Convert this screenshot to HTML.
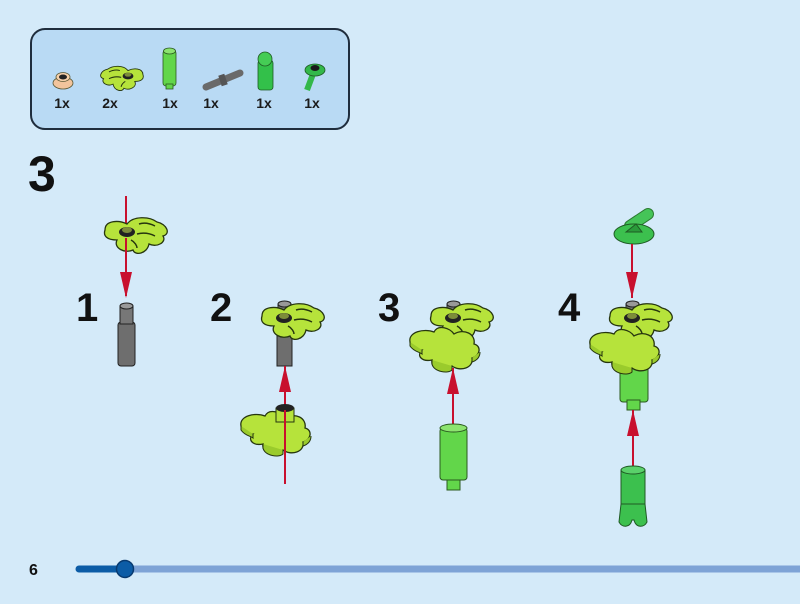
<!DOCTYPE html>
<html><head><meta charset="utf-8"><style>
html,body{margin:0;padding:0;background:#d4eaf9;}
svg{display:block;font-family:"Liberation Sans",sans-serif;}
</style></head><body>
<svg width="800" height="604" viewBox="0 0 800 604" xmlns="http://www.w3.org/2000/svg">
<defs>
<g id="leaf">
<path d="M-22,-2 C-22,-12 -8,-12 0,-8 C6,-16 22,-16 30,-10 C40,-8 44,2 36,4 C40,10 30,16 22,12 C20,22 8,24 6,18 C-2,22 -14,16 -10,8 C-20,8 -24,4 -22,-2 Z" fill="#b6e33b" stroke="#26360f" stroke-width="1.3"/>
<path d="M12,-8 C18,-10 24,-8 28,-6 M10,2 C18,0 24,2 28,4 M4,8 C8,10 10,14 10,16" fill="none" stroke="#26360f" stroke-width="1.5"/>
<ellipse cx="0" cy="0" rx="8" ry="5" fill="#222"/>
<ellipse cx="0" cy="-2" rx="5" ry="3" fill="#7c8c3a"/>
</g>
<g id="flower">
<path d="M-44,2 C-46,-8 -30,-12 -20,-8 C-16,-16 -4,-12 0,-6 C10,-12 22,-6 20,4 C28,6 26,16 18,18 C20,28 6,32 -2,26 C-10,34 -24,30 -22,20 C-32,22 -38,16 -32,10 C-40,10 -44,6 -44,2 Z" fill="#b6e33b" stroke="#26360f" stroke-width="1.3"/>
<path d="M-44,2 L-44,6 C-40,12 -34,12 -32,14 L-32,10 M-22,20 L-22,24 C-20,32 -6,34 -2,30 L-2,26 M18,18 L18,22 C24,20 26,16 26,12" fill="#9acb2c" stroke="#26360f" stroke-width="1"/>
</g>
</defs>

<rect x="31" y="29" width="318" height="100" rx="14" fill="#b9daf4" stroke="#1f2d3d" stroke-width="2"/>
<g font-weight="bold" font-size="14" fill="#1a1a1a" text-anchor="middle">
<text x="62" y="108">1x</text><text x="110" y="108">2x</text><text x="170" y="108">1x</text>
<text x="211" y="108">1x</text><text x="264" y="108">1x</text><text x="312" y="108">1x</text>
</g>
<ellipse cx="63" cy="83" rx="10" ry="6" fill="#f2c49c" stroke="#553" stroke-width="0.8"/>
<ellipse cx="63" cy="77" rx="7" ry="4.5" fill="#f5cfa9" stroke="#553" stroke-width="0.8"/>
<ellipse cx="63" cy="77" rx="4" ry="2.5" fill="#222"/>
<g transform="translate(128,76) scale(-0.68,0.68)"><use href="#leaf"/></g>
<rect x="163" y="50" width="13" height="36" rx="3" fill="#62d64a" stroke="#2b5a20" stroke-width="0.8"/>
<ellipse cx="169.5" cy="51" rx="6" ry="3" fill="#8ce46f" stroke="#2b5a20" stroke-width="0.8"/>
<rect x="166" y="84" width="7" height="5" fill="#62d64a" stroke="#2b5a20" stroke-width="0.8"/>
<path d="M206,87 L240,73" stroke="#6a6a6a" stroke-width="7" stroke-linecap="round"/>
<path d="M220,81 L226,79" stroke="#555" stroke-width="11"/>
<rect x="258" y="60" width="15" height="30" rx="3" fill="#33c04a" stroke="#1f5a24" stroke-width="0.8"/>
<circle cx="265" cy="59" r="7" fill="#45cc55" stroke="#1f5a24" stroke-width="0.8"/>
<path d="M313,74 L307,90" stroke="#33b84a" stroke-width="6"/>
<ellipse cx="315" cy="70" rx="10" ry="6" fill="#33b84a" stroke="#1f5a24" stroke-width="0.8"/>
<ellipse cx="315" cy="68" rx="4.5" ry="3" fill="#1a1a1a"/>

<text x="28" y="191" font-size="50" font-weight="bold" fill="#111">3</text>
<g font-size="40" font-weight="bold" fill="#111">
<text x="76" y="321">1</text><text x="210" y="321">2</text><text x="378" y="321">3</text><text x="558" y="321">4</text>
</g>

<line x1="126" y1="196" x2="126" y2="232" stroke="#c8102e" stroke-width="2"/>
<use href="#leaf" transform="translate(127,232)"/>
<line x1="126" y1="238" x2="126" y2="296" stroke="#c8102e" stroke-width="2"/>
<path d="M120,272 L126,298 L132,272 Z" fill="#c8102e"/>
<rect x="118" y="322" width="17" height="44" rx="3" fill="#6e6e6e" stroke="#222" stroke-width="1"/>
<rect x="120" y="306" width="13" height="18" fill="#777" stroke="#222" stroke-width="1"/>
<ellipse cx="126.5" cy="306" rx="6.5" ry="3" fill="#999" stroke="#222"/>

<rect x="277" y="328" width="15" height="38" fill="#6e6e6e" stroke="#222" stroke-width="1"/>
<rect x="278" y="304" width="13" height="12" fill="#777" stroke="#222"/>
<ellipse cx="284.5" cy="304" rx="6.5" ry="3" fill="#999" stroke="#222"/>
<use href="#leaf" transform="translate(284,318)"/>
<line x1="285" y1="366" x2="285" y2="484" stroke="#c8102e" stroke-width="2"/>
<path d="M279,392 L285,366 L291,392 Z" fill="#c8102e"/>
<use href="#flower" transform="translate(285,424)"/>
<rect x="276" y="408" width="18" height="14" fill="#b6e33b" stroke="#26360f"/>
<ellipse cx="285" cy="408" rx="9" ry="4" fill="#222"/>
<line x1="285" y1="410" x2="285" y2="484" stroke="#c8102e" stroke-width="2"/>

<rect x="447" y="304" width="13" height="12" fill="#777" stroke="#222"/>
<ellipse cx="453.5" cy="304" rx="6.5" ry="3" fill="#999" stroke="#222"/>
<use href="#leaf" transform="translate(453,318)"/>
<use href="#flower" transform="translate(454,340)"/>
<line x1="453" y1="368" x2="453" y2="428" stroke="#c8102e" stroke-width="2"/>
<path d="M447,394 L453,368 L459,394 Z" fill="#c8102e"/>
<rect x="440" y="428" width="27" height="52" rx="3" fill="#62d64a" stroke="#2b5a20"/>
<ellipse cx="453.5" cy="428" rx="13.5" ry="4" fill="#8ce46f" stroke="#2b5a20"/>
<rect x="447" y="480" width="13" height="10" fill="#62d64a" stroke="#2b5a20"/>

<path d="M630,226 L648,214" stroke="#2b7a30" stroke-width="12" stroke-linecap="round"/>
<path d="M630,226 L648,214" stroke="#45c458" stroke-width="10" stroke-linecap="round"/>
<ellipse cx="634" cy="234" rx="20" ry="10" fill="#3cc04e" stroke="#1f5a24"/>
<path d="M626,232 L636,224 L642,232 Z" fill="#2a9a3a" stroke="#1f5a24"/>
<line x1="632" y1="244" x2="632" y2="298" stroke="#c8102e" stroke-width="2"/>
<path d="M626,272 L632,298 L638,272 Z" fill="#c8102e"/>
<rect x="620" y="360" width="28" height="42" rx="3" fill="#62d64a" stroke="#2b5a20"/>
<rect x="627" y="400" width="13" height="10" fill="#62d64a" stroke="#2b5a20"/>
<rect x="626" y="304" width="13" height="12" fill="#777" stroke="#222"/>
<ellipse cx="632.5" cy="304" rx="6.5" ry="3" fill="#999" stroke="#222"/>
<use href="#leaf" transform="translate(632,318)"/>
<use href="#flower" transform="translate(634,342)"/>
<line x1="633" y1="410" x2="633" y2="470" stroke="#c8102e" stroke-width="2"/>
<path d="M627,436 L633,410 L639,436 Z" fill="#c8102e"/>
<rect x="621" y="470" width="24" height="34" fill="#3cc04e" stroke="#1f5a24"/>
<ellipse cx="633" cy="470" rx="12" ry="4" fill="#5ad06a" stroke="#1f5a24"/>
<path d="M621,504 L619,522 C622,528 630,528 632,520 L634,520 C636,528 644,528 647,522 L645,504 Z" fill="#3cc04e" stroke="#1f5a24"/>

<text x="29" y="575" font-size="16" font-weight="bold" fill="#111">6</text>
<line x1="125" y1="569" x2="800" y2="569" stroke="#7ea3d6" stroke-width="7"/>
<line x1="79" y1="569" x2="125" y2="569" stroke="#0c5ca6" stroke-width="7" stroke-linecap="round"/>
<circle cx="125" cy="569" r="8.5" fill="#0c5ca6" stroke="#083a70" stroke-width="1.5"/>
</svg>
</body></html>
